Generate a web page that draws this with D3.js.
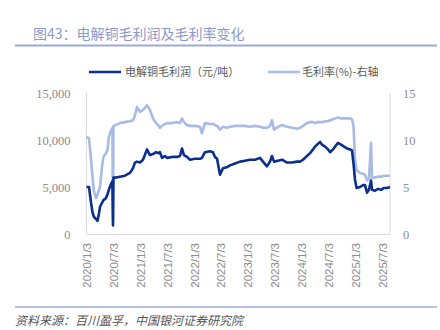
<!DOCTYPE html>
<html><head><meta charset="utf-8">
<script src="https://cdn.jsdelivr.net/npm/d3@7"></script>
<style>html,body{margin:0;padding:0;background:#fff;}svg{display:block;}</style>
</head><body><svg id="c" width="440" height="330"></svg>
<script>
const dates = ["2020-01-03","2020-01-20","2020-02-03","2020-02-13","2020-02-23","2020-03-08","2020-03-18","2020-03-28","2020-04-04","2020-04-17","2020-04-27","2020-05-14","2020-05-24","2020-06-03","2020-06-17","2020-06-27","2020-07-01","2020-07-04","2020-07-21","2020-08-17","2020-09-20","2020-10-24","2020-11-14","2020-11-27","2020-12-11","2020-12-31","2021-01-21","2021-02-17","2021-03-09","2021-03-30","2021-04-19","2021-05-03","2021-05-16","2021-05-30","2021-06-19","2021-07-03","2021-08-06","2021-09-09","2021-09-29","2021-10-13","2021-10-26","2021-11-16","2021-12-06","2022-01-09","2022-02-12","2022-02-25","2022-03-18","2022-04-21","2022-05-11","2022-05-25","2022-06-08","2022-06-28","2022-07-18","2022-08-14","2022-09-04","2022-10-08","2022-11-11","2022-12-15","2023-01-18","2023-02-21","2023-03-27","2023-04-16","2023-05-13","2023-06-03","2023-06-16","2023-06-30","2023-07-27","2023-08-23","2023-09-26","2023-10-30","2023-12-03","2023-12-24","2024-01-13","2024-02-09","2024-03-01","2024-03-21","2024-04-04","2024-04-24","2024-05-08","2024-05-21","2024-06-11","2024-07-01","2024-07-15","2024-08-04","2024-08-18","2024-09-07","2024-09-27","2024-10-18","2024-11-07","2024-11-28","2024-12-11","2024-12-21","2024-12-31","2025-01-11","2025-02-03","2025-02-24","2025-03-09","2025-03-23","2025-04-05","2025-04-19","2025-04-26","2025-05-16","2025-06-05","2025-06-26","2025-07-16","2025-08-06","2025-08-26"];
const profit = [5000,5000,3300,2300,1800,1600,1400,2200,2900,3300,3600,3800,4200,4700,5300,5600,900,6000,6000,6100,6200,6500,7000,7600,7700,7600,7900,9000,8400,8500,8700,8600,8700,8100,8300,8100,8200,8200,8300,9100,8400,8200,7900,8000,8000,8100,8700,8800,8700,8200,8000,6300,7000,7100,7300,7500,7700,7800,7900,7900,8100,7700,7200,7700,8300,7700,7800,7900,7600,7600,7700,7700,7900,8300,8600,9000,9300,9600,9800,9500,9300,9000,8700,9000,9300,9700,9500,9300,9100,9000,8900,7500,5800,4900,5000,5200,5200,4400,4700,5700,4700,4600,4800,4700,4900,4900,5000];
const margin = [10.3,10.2,7.9,6.0,4.5,3.8,4.2,4.7,5.0,7.1,8.2,8.6,8.9,10.3,11.0,11.3,1.5,11.5,11.6,11.8,11.9,12.0,12.1,12.6,13.5,13.0,13.2,13.7,13.2,12.3,11.8,11.6,11.3,11.5,11.7,11.8,11.8,11.9,11.8,12.3,11.9,11.6,11.5,11.5,11.4,10.7,11.8,11.7,11.7,11.6,11.5,11.1,11.4,11.3,11.4,11.5,11.5,11.5,11.4,11.5,11.4,11.3,11.3,11.5,12.1,11.1,11.4,11.6,11.4,11.3,11.2,11.3,11.5,11.8,11.9,11.9,11.8,11.9,11.9,11.9,12.0,12.0,12.1,12.2,12.3,12.4,12.3,12.3,12.3,12.3,12.2,11.5,8.0,6.8,6.5,6.4,6.3,5.7,5.9,9.7,6.0,6.0,6.1,6.1,6.2,6.2,6.2];
const xTickLabels = ["2020/1/3","2020/7/3","2021/1/3","2021/7/3","2022/1/3","2022/7/3","2023/1/3","2023/7/3","2024/1/3","2024/7/3","2025/1/3","2025/7/3"];
const leftTicks = [0,5000,10000,15000];
const rightTicks = [0,5,10,15];
const seriesNames = ["电解铜毛利润（元/吨）","毛利率(%)-右轴"];
const title = "图43：电解铜毛利润及毛利率变化";
const source = "资料来源：百川盈孚，中国银河证券研究院";

const parse = d3.timeParse("%Y-%m-%d");
const tickParse = d3.timeParse("%Y/%m/%d");
const svg = d3.select("#c");
const L = 86.5, R = 390, T = 93, B = 234;
const x = d3.scaleTime().domain([parse("2020-01-03"), parse("2025-08-26")]).range([L, R]);
const yL = d3.scaleLinear().domain([0,15000]).range([B,T]);
const yR = d3.scaleLinear().domain([0,15]).range([B,T]);
const dark = "#0a2f8e", light = "#a7bbe6";
const cjk = "'Noto Sans CJK SC', sans-serif";

svg.append("text").attr("x",33).attr("y",38.5).attr("font-family",cjk).attr("font-size",14).attr("fill","#8b9acb").text(title);
svg.append("line").attr("x1",15).attr("x2",437).attr("y1",45.5).attr("y2",45.5).attr("stroke","#9aabd3").attr("stroke-width",2);

// axes lines
const ax = svg.append("g").attr("stroke","#d9d9d9").attr("stroke-width",1);
ax.append("line").attr("x1",L).attr("x2",L).attr("y1",T).attr("y2",B);
ax.append("line").attr("x1",R).attr("x2",R).attr("y1",T).attr("y2",B);
ax.append("line").attr("x1",L).attr("x2",R).attr("y1",B+0.5).attr("y2",B+0.5);

// left ticks
const lAxis = svg.append("g").attr("transform",`translate(${L},0)`)
  .call(d3.axisLeft(yL).tickValues(leftTicks).tickSize(0).tickPadding(16).tickFormat(d3.format(",")));
lAxis.select(".domain").remove();
lAxis.selectAll("text").attr("font-family","'Liberation Serif', serif").attr("font-size",12.5).attr("fill","#8c8c8c");
const rAxis = svg.append("g").attr("transform",`translate(${R},0)`)
  .call(d3.axisRight(yR).tickValues(rightTicks).tickSize(0).tickPadding(13));
rAxis.select(".domain").remove();
rAxis.selectAll("text").attr("font-family","'Liberation Serif', serif").attr("font-size",12.5).attr("fill","#8c8c8c");

// x labels
const xAxis = svg.append("g").attr("transform",`translate(0,${B})`)
  .call(d3.axisBottom(x).tickValues(xTickLabels.map(s=>tickParse(s))).tickSize(0).tickFormat((d,i)=>xTickLabels[i]));
xAxis.select(".domain").remove();
xAxis.selectAll("text").attr("font-family","'Liberation Sans', Arial, sans-serif").attr("font-size",11.5).attr("fill","#8c8c8c")
  .attr("text-anchor","end").attr("transform","rotate(-90)").attr("x",-9).attr("y",0).attr("dy","0.35em");

const pts = dates.map((d,i)=>({t:parse(d), p:profit[i], m:margin[i]}));
svg.append("path").datum(pts).attr("fill","none").attr("stroke",light).attr("stroke-width",2.6).attr("stroke-linejoin","round")
  .attr("d", d3.line().x(d=>x(d.t)).y(d=>yR(d.m)));
svg.append("path").datum(pts).attr("fill","none").attr("stroke",dark).attr("stroke-width",2.6).attr("stroke-linejoin","round")
  .attr("d", d3.line().x(d=>x(d.t)).y(d=>yL(d.p)));

// legend
const lg = svg.append("g");
lg.append("line").attr("x1",89).attr("x2",121).attr("y1",72).attr("y2",72).attr("stroke",dark).attr("stroke-width",2.5);
lg.append("text").attr("x",125).attr("y",76).attr("font-family",cjk).attr("font-size",11).attr("fill","#595959").text(seriesNames[0]);
lg.append("line").attr("x1",268).attr("x2",300).attr("y1",72).attr("y2",72).attr("stroke",light).attr("stroke-width",2.5);
lg.append("text").attr("x",302).attr("y",76).attr("font-family",cjk).attr("font-size",11).attr("fill","#595959").text(seriesNames[1]);

// footer
svg.append("line").attr("x1",15).attr("x2",437).attr("y1",307).attr("y2",307).attr("stroke","#9aabd3").attr("stroke-width",1.5);
svg.append("text").attr("x",15).attr("y",325).attr("font-family",cjk).attr("font-size",12).attr("font-style","italic").attr("fill","#555").text(source);
</script></body></html>
